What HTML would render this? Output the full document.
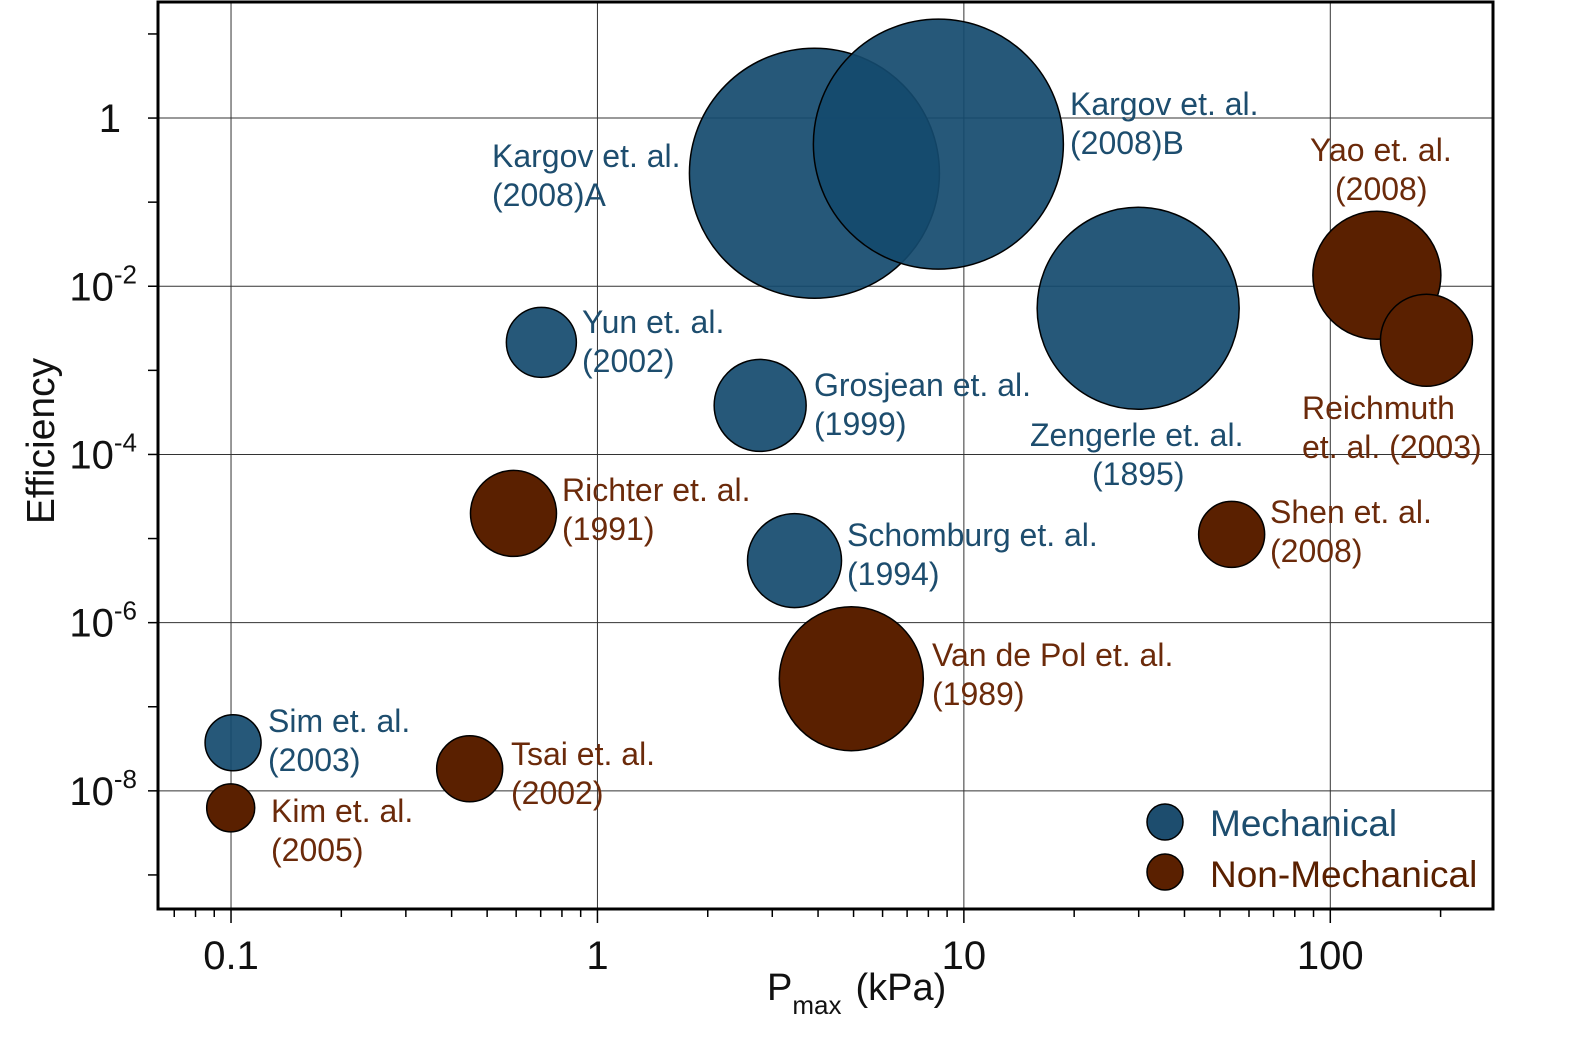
<!DOCTYPE html>
<html><head><meta charset="utf-8"><style>
html,body{margin:0;padding:0;background:#fff;}
svg{display:block;font-family:"Liberation Sans",Arial,sans-serif;}
</style></head><body>
<svg id="chart" width="1591" height="1054" viewBox="0 0 1591 1054" xmlns="http://www.w3.org/2000/svg">
<g id="grid"></g>
<g id="bubbles"></g>
<g id="labels"></g>
<rect x="158" y="2" width="1335" height="907" fill="none" stroke="#000" stroke-width="3"/>
<g id="ticks"></g>
<text transform="translate(54,441) rotate(-90)" text-anchor="middle" font-size="39" fill="#111">Efficiency</text>
<text x="767" y="1000" font-size="38" fill="#111">P<tspan font-size="26" dy="14">max</tspan><tspan dy="-14" dx="14">(kPa)</tspan></text>
<g>
<circle cx="1165" cy="822" r="18" fill="#1d4d6e" stroke="#000" stroke-width="1.5"/>
<text x="1210" y="836" font-size="37" fill="#1d4d6e">Mechanical</text>
<circle cx="1165" cy="872" r="18" fill="#5a2000" stroke="#000" stroke-width="1.5"/>
<text x="1210" y="887" font-size="37" fill="#5a2000">Non-Mechanical</text>
</g>
</svg>
<script>
const names = ["Kargov A","Kargov B","Zengerle","Yao","Reichmuth","Yun","Grosjean","Richter","Schomburg","Shen","Van de Pol","Sim","Tsai","Kim"];
const pmax = [3.91,8.52,29.9,134,183,0.703,2.78,0.590,3.45,53.8,4.93,0.1013,0.448,0.0998];
const efficiency = [0.221,0.49,0.00547,0.0135,0.00228,0.00215,0.000383,1.99e-5,5.47e-6,1.12e-5,2.15e-7,3.73e-8,1.83e-8,6.28e-9];
const radiusPx = [125,125,101,64,46,35,46,43,47,33,72,28,33,24];
const kind = ["m","m","m","n","n","m","m","n","m","n","n","m","n","n"];
const xTicks = [0.1,1,10,100];
const xTickLabels = ["0.1","1","10","100"];
const yTicks = [1,1e-2,1e-4,1e-6,1e-8];
const yTickLabels = [["1",""],["10","-2"],["10","-4"],["10","-6"],["10","-8"]];

const NS="http://www.w3.org/2000/svg";
const L=158,R=1493,T=2,B=909;
const xmin=Math.log10(0.0632), xmax=Math.log10(278);
const ymax=1.38, ymin=-9.405;
function xs(v){return L+(Math.log10(v)-xmin)/(xmax-xmin)*(R-L);}
function ys(v){return T+(ymax-Math.log10(v))/(ymax-ymin)*(B-T);}
function mk(tag,attrs,parent){const e=document.createElementNS(NS,tag);for(const k in attrs)e.setAttribute(k,attrs[k]);parent.appendChild(e);return e;}

const grid=document.getElementById('grid'), ticks=document.getElementById('ticks');
xTicks.forEach((v,i)=>{
  const l=mk('line',{x1:xs(v),x2:xs(v),y1:T,y2:B,stroke:'#333','stroke-width':1},grid);
  
  
  const t=mk('text',{x:xs(v),y:969,'text-anchor':'middle','font-size':40,fill:'#111'},ticks);
  t.textContent=xTickLabels[i];
  
  
});
for(let d=-2;d<=2;d++){for(let m=1;m<=9;m++){const v=m*Math.pow(10,d);const x=xs(v);if(x<L||x>R)continue;
  const tk=mk('line',{x1:x,x2:x,y1:B,y2:B+(m===1?14:8),stroke:'#000','stroke-width':1.5},ticks);
  
  }}
yTicks.forEach((v,i)=>{
  const l=mk('line',{x1:L,x2:R,y1:ys(v),y2:ys(v),stroke:'#333','stroke-width':1},grid);
  
  
  const t=mk('text',{x:121,y:ys(v)+14,'text-anchor':'end','font-size':40,fill:'#111'},ticks);
  t.textContent=yTickLabels[i][0];
  if(yTickLabels[i][1]){const s=mk('tspan',{'font-size':26,dy:-17},t);s.textContent=yTickLabels[i][1];t.setAttribute('x',137);}
  
  
});
for(let e=-9;e<=1;e++){const y=ys(Math.pow(10,e));if(y<T||y>B)continue;
  const tk=mk('line',{x1:L-10,x2:L,y1:y,y2:y,stroke:'#000','stroke-width':1.5},ticks);
  
  }

const bub=document.getElementById('bubbles');
names.forEach((n,i)=>{
  const c=mk('circle',{cx:xs(pmax[i]),cy:ys(efficiency[i]),r:radiusPx[i],
    fill:kind[i]==='m'?'#134a6e':'#5a2000','fill-opacity':kind[i]==='m'?0.92:1,stroke:'#000','stroke-width':1.5},bub);
  
  
});

const labelText=[["Kargov et. al.","(2008)A",492,166,"m"],["Kargov et. al.","(2008)B",1070,114,"m"],
["Zengerle et. al.","(1895)",1030,445,"m",1092],["Yao et. al.","(2008)",1310,160,"n",1335],
["Reichmuth","et. al. (2003)",1302,418,"n"],["Yun et. al.","(2002)",582,332,"m"],
["Grosjean et. al.","(1999)",814,395,"m"],["Richter et. al.","(1991)",562,500,"n"],
["Schomburg et. al.","(1994)",847,545,"m"],["Shen et. al.","(2008)",1270,522,"n"],
["Van de Pol et. al.","(1989)",932,665,"n"],["Sim et. al.","(2003)",268,731,"m"],
["Tsai et. al.","(2002)",511,764,"n"],["Kim et. al.","(2005)",271,821,"n"]];
const lab=document.getElementById('labels');
labelText.forEach(a=>{
  const col=a[4]==='m'?'#1d4d6e':'#6b2a0a';
  const t1=mk('text',{x:a[2],y:a[3]+1,'font-size':32,fill:col},lab);t1.textContent=a[0];
  
  
  const t2=mk('text',{x:a[5]||a[2],y:a[3]+40,'font-size':32,fill:col},lab);t2.textContent=a[1];
  
  
});
</script>
</body></html>
